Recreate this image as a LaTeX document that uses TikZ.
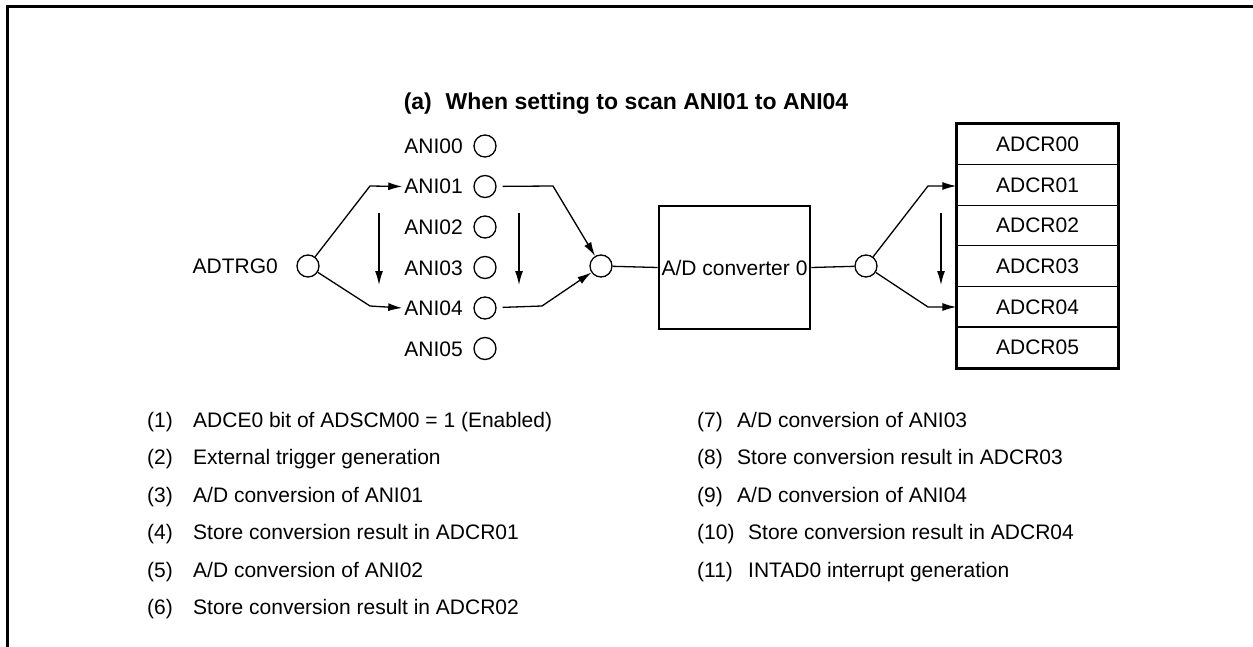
\documentclass[tikz,border=0pt]{standalone}
\usepackage{fontspec}
\setmainfont{Liberation Sans}
\usetikzlibrary{arrows.meta}
\begin{document}
\begin{tikzpicture}[x=1pt,y=-1pt,
  txt/.style={inner sep=0pt,text height=15pt,text depth=0pt,font=\fontsize{21}{25}\selectfont},
  pin/.style={draw,circle,line width=1.3pt,minimum size=22pt,inner sep=0pt},
  wire/.style={line width=1.3pt},
  arr/.style={line width=1.3pt,-{Latex[length=14pt,width=8pt]}},
  reg/.style={draw,line width=1.3pt,minimum width=161pt,minimum height=40.6pt,inner sep=0pt,text height=15pt,text depth=0pt,font=\fontsize{21}{25}\selectfont}]
\useasboundingbox (0,0) rectangle (1253,647);
% frame
\draw[line width=3pt] (7,660) -- (7,7) -- (1260,7);
% title
\node[txt,text height=16.5pt,font=\fontsize{23}{27}\selectfont\bfseries] (title) at (626,101) {(a)\hspace{0.6em}When setting to scan ANI01 to ANI04};
% analog inputs
\foreach \i in {0,...,5}{
  \node[pin] (c\i) at (485,{146+40.5*\i}) {};
  \node[txt,anchor=east] (a\i) at (463,{146+40.5*\i}) {ANI0\i};
}
% trigger
\node[pin] (trg) at (308,266) {};
\node[txt,anchor=east] (trgl) at (278,266) {ADTRG0};
\coordinate (t1) at (370,186);
\coordinate (t2) at (370,306);
\draw[arr] (trg) -- (t1) -- ([xshift=-2pt]a1.west);
\draw[arr] (trg) -- (t2) -- ([xshift=-2pt]a4.west);
\coordinate (v1s) at (379,213);
\coordinate (v1e) at (379,285);
\draw[arr] (v1s) -- (v1e);
% merge
\node[pin] (mrg) at (601,266) {};
\coordinate (m1) at (553,186);
\coordinate (m2) at (542,306);
\draw[arr,shorten <=6pt] (c1) -- (m1) -- (mrg);
\draw[arr,shorten <=6pt] (c4) -- (m2) -- (mrg);
\coordinate (v2s) at (519,213);
\coordinate (v2e) at (519,285);
\draw[arr] (v2s) -- (v2e);
% converter
\node[draw,line width=2.8pt,minimum width=151pt,minimum height=123pt,inner sep=0pt,text height=15pt,text depth=0pt,font=\fontsize{21}{25}\selectfont] (adc) at (734.5,267.5) {A/D converter 0};
\draw[wire] (mrg) -- (adc.west);
\node[pin] (out) at (866,266) {};
\draw[wire] (adc.east) -- (out);
% registers
\foreach \i in {0,...,5}{
  \node[reg] (r\i) at (1037.5,{144.3+40.6*\i}) {ADCR0\i};
}
\draw[line width=2.8pt] (r0.north west) rectangle (r5.south east);
\coordinate (o1) at (928,186);
\coordinate (o2) at (928,307);
\draw[arr] (out) -- (o1) -- (o1 -| r1.west);
\draw[arr] (out) -- (o2) -- (o2 -| r4.west);
\coordinate (v3s) at (941,213);
\coordinate (v3e) at (941,285);
\draw[arr] (v3s) -- (v3e);
% legend left
\foreach \n/\t [count=\k from 0] in {1/{ADCE0 bit of ADSCM00 = 1 (Enabled)},2/{External trigger generation},3/{A/D conversion of ANI01},4/{Store conversion result in ADCR01},5/{A/D conversion of ANI02},6/{Store conversion result in ADCR02}}{
  \node[txt,anchor=west] (n\n) at (147,{420+37.4*\k}) {(\n)};
  \node[txt,anchor=west] (l\n) at (193,{420+37.4*\k}) {\t};
}
% legend right
\foreach \n/\t [count=\k from 0] in {7/{A/D conversion of ANI03},8/{Store conversion result in ADCR03},9/{A/D conversion of ANI04}}{
  \node[txt,anchor=west] (n\n) at (697,{420+37.4*\k}) {(\n)};
  \node[txt,anchor=west] (l\n) at (737,{420+37.4*\k}) {\t};
}
\foreach \n/\t [count=\k from 3] in {10/{Store conversion result in ADCR04},11/{INTAD0 interrupt generation}}{
  \node[txt,anchor=west] (n\n) at (697,{420+37.4*\k}) {(\n)};
  \node[txt,anchor=west] (l\n) at (748,{420+37.4*\k}) {\t};
}
\end{tikzpicture}
\end{document}
